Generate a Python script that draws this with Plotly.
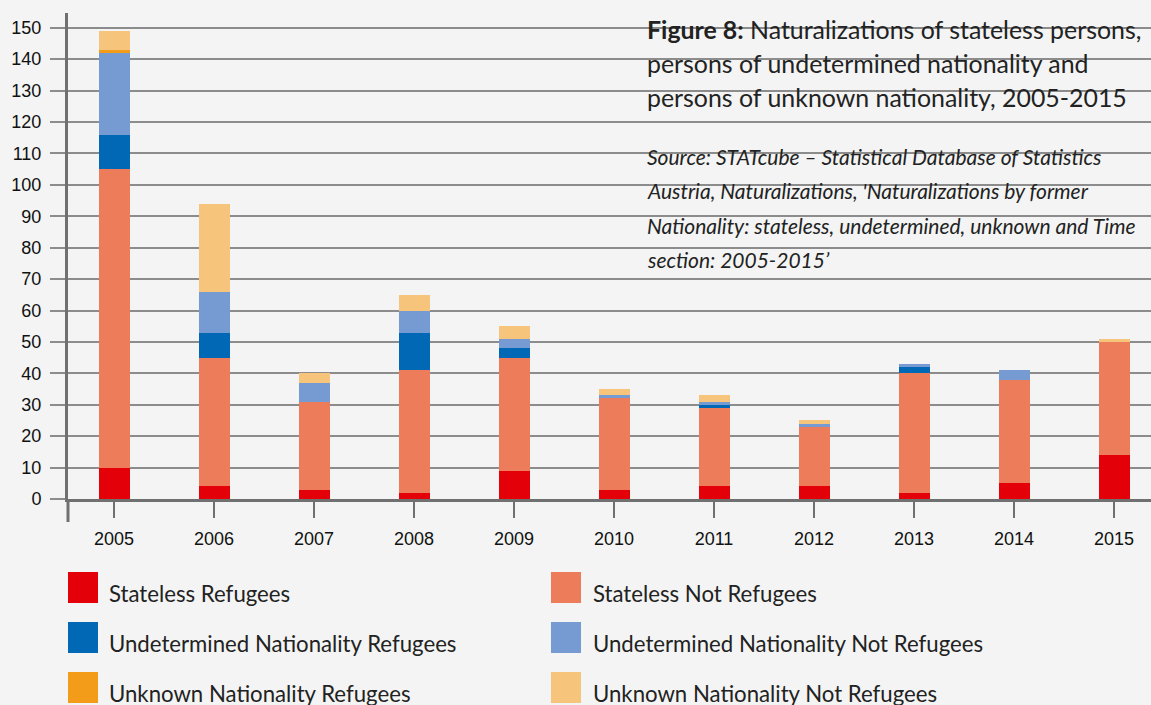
import plotly.graph_objects as go

years = ["2005", "2006", "2007", "2008", "2009", "2010", "2011", "2012", "2013", "2014", "2015"]
stateless_refugees = [10, 4, 3, 2, 9, 3, 4, 4, 2, 5, 14]
stateless_not_refugees = [95, 41, 28, 39, 36, 29, 25, 19, 38, 33, 36]
undetermined_refugees = [11, 8, 0, 12, 3, 0, 1, 0, 2, 0, 0]
undetermined_not_refugees = [26, 13, 6, 7, 3, 1, 1, 1, 1, 3, 0]
unknown_refugees = [1, 0, 0, 0, 0, 0, 0, 0, 0, 0, 0]
unknown_not_refugees = [6, 28, 3, 5, 4, 2, 2, 1, 0, 0, 1]
y_ticks = [0, 10, 20, 30, 40, 50, 60, 70, 80, 90, 100, 110, 120, 130, 140, 150]

series = [
    ("Stateless Refugees", stateless_refugees, "#e30008"),
    ("Stateless Not Refugees", stateless_not_refugees, "#ed7d5a"),
    ("Undetermined Nationality Refugees", undetermined_refugees, "#0068b4"),
    ("Undetermined Nationality Not Refugees", undetermined_not_refugees, "#759bd2"),
    ("Unknown Nationality Refugees", unknown_refugees, "#f39c1a"),
    ("Unknown Nationality Not Refugees", unknown_not_refugees, "#f7c47c"),
]

W, H = 1151, 705
L, R, T, B = 68, 0, 13, 206
PW, PH = W - L - R, H - T - B
BG = "#f3f4f3"
GRID = "#8c8c8c"
AXIS = "#707070"
TXT = "#222222"
TXTFONT = "Lato"


def px_x(x):
    return (x - L) / PW


def px_y(y):
    return (H - B - y) / PH


fig = go.Figure()
for name, vals, col in series:
    fig.add_trace(go.Bar(x=years, y=vals, name=name, marker=dict(color=col, line=dict(width=0)),
                         width=0.31, showlegend=False))

shapes = []
annotations = []

# mask behind the title block (gridlines stop there)
shapes.append(dict(type="rect", xref="paper", yref="paper", x0=px_x(600), x1=1.01, y0=px_y(295), y1=1.05,
                   fillcolor=BG, line=dict(width=0), layer="between"))
# y axis line extension below zero
shapes.append(dict(type="line", xref="paper", yref="paper", x0=0, x1=0, y0=0, y1=px_y(522),
                   line=dict(color=AXIS, width=3)))

# legend
leg_rows = [603, 653, 703]
leg_cols = [(68, 107), (551, 591)]
for i, (name, vals, col) in enumerate(series):
    r, c = i // 2, i % 2
    sx, tx = leg_cols[c]
    base = leg_rows[r]
    shapes.append(dict(type="rect", xref="paper", yref="paper", x0=px_x(sx), x1=px_x(sx + 30),
                       y0=px_y(base), y1=px_y(base - 31), fillcolor=col, line=dict(width=0)))
    annotations.append(dict(text=name, xref="paper", yref="paper", x=px_x(tx), y=px_y(base - 10),
                            xanchor="left", yanchor="middle", showarrow=False,
                            font=dict(family=TXTFONT, size=22.2, color=TXT)))

# title
title_lines = [
    "<b>Figure 8:</b> Naturalizations of stateless persons,",
    "persons of undetermined nationality and",
    "persons of unknown nationality, 2005-2015",
]
for line, mid in zip(title_lines, [29, 63, 97]):
    annotations.append(dict(text=line, xref="paper", yref="paper", x=px_x(645), y=px_y(mid),
                            xanchor="left", yanchor="middle", showarrow=False,
                            font=dict(family=TXTFONT, size=24.9, color=TXT)))

source_lines = [
    "<i>Source: STATcube – Statistical Database of Statistics</i>",
    "<i>Austria, Naturalizations, 'Naturalizations by former</i>",
    "<i>Nationality: stateless, undetermined, unknown and Time</i>",
    "<i>section: 2005-2015’</i>",
]
for line, base in zip(source_lines, [163, 197.5, 232, 266.5]):
    annotations.append(dict(text=line, xref="paper", yref="paper", x=px_x(645), y=px_y(base - 7),
                            xanchor="left", yanchor="middle", showarrow=False,
                            font=dict(family=TXTFONT, size=21, color=TXT)))

fig.update_layout(
    width=W, height=H,
    margin=dict(l=L, r=R, t=T, b=B, pad=0),
    paper_bgcolor=BG, plot_bgcolor=BG,
    barmode="stack",
    bargap=0.69,
    showlegend=False,
    shapes=shapes,
    annotations=annotations,
    xaxis=dict(
        type="category", range=[-0.46, 10.37],
        showgrid=False, zeroline=False,
        showline=True, linecolor=AXIS, linewidth=3,
        ticks="outside", ticklen=16, tickwidth=2, tickcolor=AXIS,
        ticklabelstandoff=5,
        tickfont=dict(family="Liberation Sans", size=18, color="#111111"),
    ),
    yaxis=dict(
        range=[0, 154.7], tickvals=y_ticks,
        showgrid=True, gridcolor=GRID, gridwidth=2,
        zeroline=False,
        showline=True, linecolor=AXIS, linewidth=3,
        ticks="outside", ticklen=15, tickwidth=2, tickcolor=GRID,
        ticklabelstandoff=5,
        tickfont=dict(family="Liberation Sans", size=18, color="#111111"),
    ),
)

fig.write_html("out.html",
               config={"displayModeBar": False},
               post_script="document.body.style.margin='0px';document.body.style.overflow='hidden';document.body.style.background='#f3f4f3';")
